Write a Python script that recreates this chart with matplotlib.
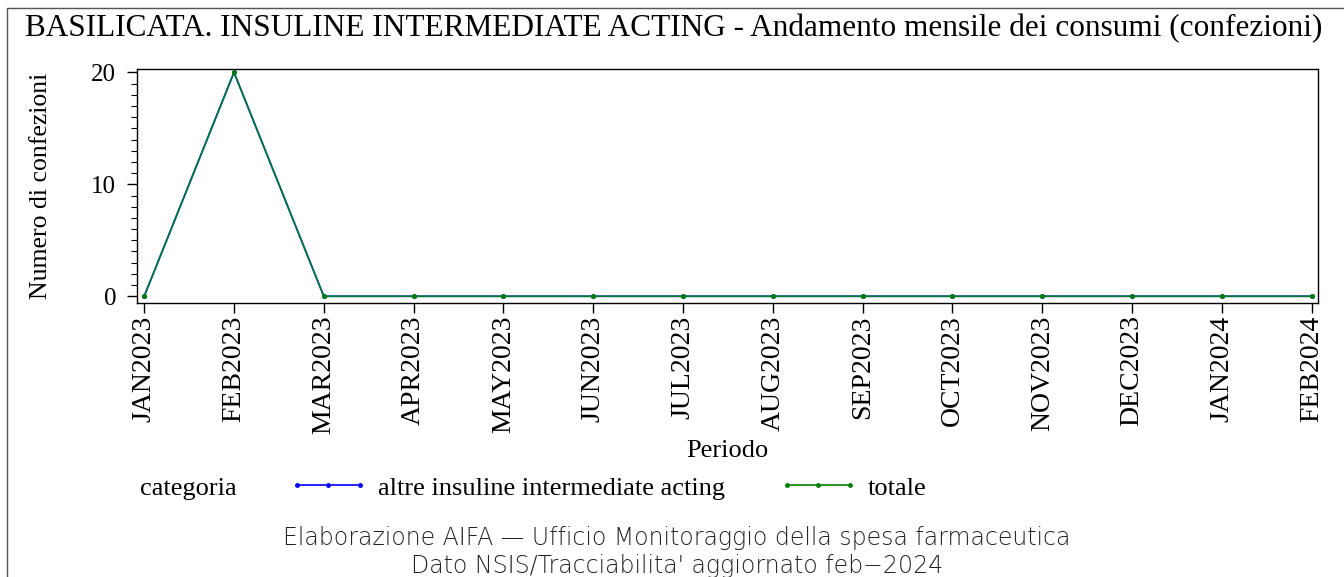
import matplotlib
matplotlib.use("Agg")
import matplotlib.pyplot as plt
from matplotlib.lines import Line2D
from matplotlib.ticker import MultipleLocator

periods = ["JAN2023", "FEB2023", "MAR2023", "APR2023", "MAY2023", "JUN2023", "JUL2023",
           "AUG2023", "SEP2023", "OCT2023", "NOV2023", "DEC2023", "JAN2024", "FEB2024"]
altre = [0, 20, 0, 0, 0, 0, 0, 0, 0, 0, 0, 0, 0, 0]
totale = [0, 20, 0, 0, 0, 0, 0, 0, 0, 0, 0, 0, 0, 0]

W, H = 1344, 577
fig = plt.figure(figsize=(W / 100, H / 100), dpi=100)
serif = "Liberation Serif"
FS = 19

ax = fig.add_axes([137 / W, 1 - 303 / H, (1318 - 137) / W, (303 - 69) / H])
x = list(range(len(periods)))
ax.plot(x, altre, color="#0000ff", lw=1.2, marker="o", ms=2.5, zorder=2)
ax.plot(x, totale, color="#007a33", lw=1.2, marker="o", ms=2.5, zorder=3,
        markerfacecolor="#008000", markeredgecolor="#008000")
ax.set_xlim(-0.08, 13.07)
ax.set_ylim(-0.6, 20.3)
ax.set_xticks(x)
ax.set_xticklabels(periods, rotation=90, fontfamily=serif, fontsize=20)
ax.set_yticks([0, 10, 20])
ax.yaxis.set_minor_locator(MultipleLocator(1))
for lab in ax.get_yticklabels():
    lab.set_fontfamily(serif)
    lab.set_fontsize(18)
ax.tick_params(axis="both", which="major", length=7, width=1, direction="out", pad=2)
ax.tick_params(axis="y", which="major", pad=8)
ax.tick_params(axis="y", which="minor", length=4, width=0.8)
for s in ax.spines.values():
    s.set_linewidth(1)

ax.set_ylabel("Numero di confezioni", fontfamily=serif, fontsize=18.5, labelpad=28)
fig.text(727 / W, 1 - 451 / H, "Periodo", fontfamily=serif, fontsize=FS, ha="center", va="center")

fig.text(674 / W, 1 - 29 / H,
         "BASILICATA. INSULINE INTERMEDIATE ACTING - Andamento mensile dei consumi (confezioni)",
         fontfamily=serif, fontsize=22.5, ha="center", va="center")

# legend
ly = 1 - 489 / H
fig.text(140 / W, ly, "categoria", fontfamily=serif, fontsize=FS, va="center")
fig.add_artist(Line2D([297 / W, 360 / W], [ly + 4 / H, ly + 4 / H], color="#0000ff", lw=1.2,
                      transform=fig.transFigure))
fig.add_artist(Line2D([297 / W, 328 / W, 360 / W], [ly + 4 / H] * 3, color="#0000ff", lw=0,
                      marker="o", ms=2.5, transform=fig.transFigure))
fig.text(378 / W, ly, "altre insuline intermediate acting", fontfamily=serif, fontsize=FS, va="center")
fig.add_artist(Line2D([787 / W, 850 / W], [ly + 4 / H, ly + 4 / H], color="#008000", lw=1.2,
                      transform=fig.transFigure))
fig.add_artist(Line2D([787 / W, 818 / W, 850 / W], [ly + 4 / H] * 3, color="#008000", lw=0,
                      marker="o", ms=2.5, transform=fig.transFigure))
fig.text(868 / W, ly, "totale", fontfamily=serif, fontsize=FS, va="center")

# footer
fig.text(677 / W, 1 - 538 / H, "Elaborazione AIFA \u2014 Ufficio Monitoraggio della spesa farmaceutica",
         fontfamily="DejaVu Sans", fontweight="light", fontsize=17, color="#222222",
         ha="center", va="center")
fig.text(677 / W, 1 - 566 / H, "Dato NSIS/Tracciabilita' aggiornato feb\u22122024",
         fontfamily="DejaVu Sans", fontweight="light", fontsize=17, color="#222222",
         ha="center", va="center")

# frame
fig.add_artist(Line2D([7 / W, 7 / W, 1], [0, 1 - 8 / H, 1 - 8 / H], color="#555555", lw=1,
                      transform=fig.transFigure))

fig.savefig("out.png", dpi=100)
